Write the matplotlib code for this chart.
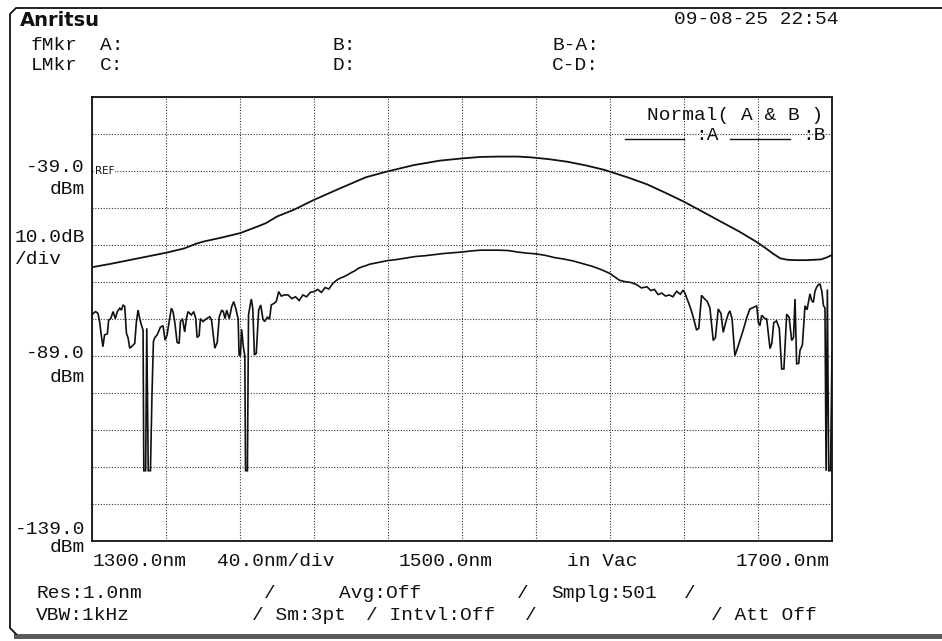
import matplotlib
matplotlib.use("Agg")
import matplotlib.pyplot as plt
from matplotlib.lines import Line2D
from matplotlib.patches import Rectangle

# ---------------- data ----------------
wl_a = [1300, 1310, 1320, 1330, 1340, 1350, 1356, 1360, 1370, 1380, 1390, 1394, 1400,
        1409, 1420, 1434, 1441, 1448, 1459, 1474, 1488, 1500, 1510, 1520, 1530, 1537,
        1547, 1557, 1567, 1577, 1590, 1600, 1610, 1620, 1630, 1640, 1650, 1659, 1664,
        1668, 1672, 1676, 1681, 1686, 1690, 1694, 1697, 1700]
lvl_a = [-65.0, -64.1, -63.1, -62.1, -61.1, -59.9, -58.7, -58.1, -57.0, -55.8, -53.9, -53.1, -51.3,
         -49.5, -46.8, -43.7, -42.2, -40.7, -39.2, -37.4, -36.2, -35.6, -35.2, -35.1, -35.1, -35.3,
         -35.8, -36.5, -37.5, -38.7, -40.8, -42.6, -44.9, -47.3, -50.0, -52.7, -55.4, -58.1, -59.8,
         -61.3, -62.6, -63.0, -63.1, -63.1, -63.0, -62.9, -62.4, -61.7]

wl_b = [1300.0, 1300.5, 1302.0, 1303.2, 1304.1, 1305.0, 1305.9, 1306.8, 1308.3, 1309.0,
        1310.1, 1311.4, 1312.6, 1313.7, 1315.0, 1315.9, 1316.8, 1317.7, 1318.6, 1319.5,
        1320.4, 1321.3, 1323.1, 1324.0, 1324.9, 1325.8, 1326.7, 1327.6, 1328.0, 1329.0,
        1329.6, 1330.4, 1331.6, 1332.4, 1333.2, 1334.0, 1335.2, 1337.0, 1338.4, 1339.5,
        1340.6, 1341.7, 1342.9, 1343.8, 1344.7, 1346.0, 1347.1, 1347.8, 1348.9, 1350.1,
        1351.0, 1351.9, 1353.7, 1355.0, 1356.1, 1356.8, 1357.9, 1358.6, 1360.0, 1361.9,
        1363.7, 1364.6, 1366.4, 1367.7, 1368.8, 1370.1, 1371.0, 1371.9, 1372.8, 1374.2,
        1375.5, 1376.6, 1377.7, 1379.0, 1379.5, 1380.2, 1380.9, 1381.8, 1382.6, 1383.0,
        1384.0, 1384.6, 1385.4, 1386.1, 1386.9, 1387.8, 1388.8, 1390.1, 1391.2, 1392.4,
        1393.3, 1394.8, 1396.0, 1396.9, 1398.3, 1399.6, 1400.9, 1402.3, 1404.0, 1406.0,
        1408, 1410, 1412, 1414, 1416, 1418, 1420, 1422, 1424, 1426,
        1428, 1430, 1432, 1434, 1436, 1438, 1440, 1442, 1444, 1446,
        1448, 1450, 1455, 1460, 1465, 1470, 1475, 1480, 1485, 1490,
        1495, 1500, 1505, 1510, 1515, 1520, 1525, 1530, 1535, 1540,
        1545, 1550, 1555, 1560, 1565, 1570, 1575, 1580, 1583, 1585,
        1588, 1591, 1594, 1597, 1600, 1602, 1604, 1606, 1608, 1610,
        1612, 1614, 1616, 1618, 1619.6, 1620.5, 1622.0, 1623.5, 1625.0, 1626.8,
        1628.0, 1629.5, 1631.0, 1632.5, 1634.0, 1635.8, 1637.0, 1638.5, 1640.0, 1641.2,
        1642.5, 1644.0, 1644.8, 1646.0, 1647.5, 1648.5, 1650.2, 1652.0, 1654.0, 1655.6,
        1657.0, 1659.3, 1660.2, 1661.0, 1662.0, 1663.5, 1664.7, 1666.5, 1667.5, 1668.5,
        1670.0, 1671.5, 1672.8, 1674.0, 1675.5, 1676.8, 1678.2, 1679.2, 1680.0, 1680.9,
        1682.0, 1682.7, 1684.0, 1685.4, 1686.5, 1688.1, 1689.0, 1689.9, 1690.8, 1691.7,
        1692.6, 1693.5, 1694.5, 1695.4, 1696.2, 1696.8, 1697.5, 1698.2, 1699.2, 1700.0]
lvl_b = [-78.0, -77.5, -77.0, -77.5, -79.7, -83.3, -86.5, -83.3, -83.0, -79.3,
         -78.9, -77.0, -78.9, -77.0, -76.1, -76.6, -75.2, -75.6, -82.8, -84.1,
         -86.9, -86.5, -85.6, -79.7, -76.6, -78.9, -80.6, -82.0, -120.0, -120.0,
         -81.5, -120.0, -120.0, -100.0, -85.0, -84.0, -83.3, -81.2, -80.8, -84.7,
         -83.3, -79.7, -76.1, -77.0, -79.7, -85.3, -85.6, -79.7, -78.9, -82.5,
         -78.9, -77.0, -77.9, -77.0, -78.9, -84.0, -83.5, -78.9, -79.7, -78.9,
         -78.4, -79.3, -86.9, -85.3, -78.4, -76.6, -77.0, -78.9, -76.6, -78.9,
         -75.7, -74.3, -76.1, -79.0, -88.7, -89.0, -81.8, -86.5, -89.0, -120.0,
         -120.0, -78.0, -75.5, -73.6, -76.1, -88.7, -88.3, -76.6, -75.2, -79.0,
         -79.7, -78.5, -79.0, -75.2, -74.8, -74.3, -71.6, -72.8, -72.5, -72.5,
         -73.5, -73.0, -74.0, -72.5, -73.0, -71.8, -71.6, -71.0, -71.8, -70.5,
         -70.9, -69.5, -68.6, -68.0, -67.6, -67.1, -66.5, -66.0, -65.3, -64.9,
         -64.6, -64.2, -63.7, -63.2, -62.9, -62.5, -62.1, -61.9, -61.6, -61.3,
         -61.1, -60.9, -60.6, -60.4, -60.4, -60.4, -60.5, -60.9, -61.2, -61.4,
         -61.8, -62.4, -62.8, -63.3, -64.0, -64.7, -65.6, -66.7, -67.8, -68.5,
         -68.9, -69.1, -69.6, -70.6, -70.3, -71.3, -71.0, -72.4, -72.0, -72.8,
         -72.5, -73.0, -71.5, -72.3, -71.2, -72.0, -74.0, -76.0, -78.5, -82.0,
         -81.5, -72.6, -73.5, -74.2, -76.0, -84.8, -84.0, -76.3, -77.5, -82.6,
         -80.0, -77.5, -76.8, -79.0, -88.9, -87.5, -84.8, -82.0, -78.5, -76.3,
         -76.0, -75.4, -80.0, -80.8, -78.0, -78.8, -79.0, -87.0, -85.5, -80.0,
         -79.5, -81.5, -92.5, -92.5, -77.7, -78.5, -84.8, -84.0, -73.6, -91.1,
         -91.0, -87.5, -86.0, -75.4, -76.5, -72.2, -74.0, -74.5, -71.5, -70.4,
         -69.8, -69.5, -71.5, -75.4, -76.0, -120.0, -71.0, -120.0, -120.0, -88.0]

x_ticks = [1300 + 40 * i for i in range(11)]
y_ticks = [-139 + 10 * i for i in range(13)]

# ---------------- figure ----------------
W, H = 942, 641
fig = plt.figure(figsize=(W / 100, H / 100), dpi=100)
fig.patch.set_facecolor("white")
MONO = ["Liberation Mono", "DejaVu Sans Mono"]
FS = 14


def fx(x):
    return x / W


def fy(y):
    return 1 - y / H


def txt(x, y, s, ha="left", size=FS, **kw):
    fig.text(fx(x), fy(y), s, ha=ha, va="center", fontsize=size,
             family=MONO, color="#111111", **kw)


# plot area
ax = fig.add_axes([fx(92), fy(541), (832 - 92) / W, (541 - 97) / H])
ax.set_xlim(1300, 1700)
ax.set_ylim(-139, -19)
ax.set_xticks(x_ticks)
ax.set_yticks(y_ticks)
ax.tick_params(length=0, labelbottom=False, labelleft=False)
ax.grid(True, color="#333333", linewidth=0.8, linestyle=(0, (1, 1.5)))
for sp in ax.spines.values():
    sp.set_linewidth(1.3)
    sp.set_color("#111111")

ax.plot(wl_a, lvl_a, color="#111111", lw=1.3, solid_joinstyle="miter")
ax.plot(wl_b, lvl_b, color="#111111", lw=1.2, solid_joinstyle="miter")

# REF mark
ax.text(1301.6, -39, "REF", fontsize=7.5, family=["DejaVu Sans"], va="center", ha="left",
        color="#111111", bbox=dict(facecolor="white", edgecolor="none", pad=0.6))

# legend text inside plot
txt(823, 116, "Normal( A & B )", ha="right")
fig.add_artist(Line2D([fx(625), fx(684)], [fy(139), fy(139)], color="#111111", lw=1.0))
txt(719, 136, ":A", ha="right")
fig.add_artist(Line2D([fx(730), fx(790)], [fy(139), fy(139)], color="#111111", lw=1.0))
txt(826, 136, ":B", ha="right")

# header
fig.text(fx(20), fy(21), "Anritsu", ha="left", va="center", fontsize=14,
         family=["DejaVu Sans"], weight="bold", color="#111111")
txt(838, 20, "09-08-25 22:54", ha="right")
txt(31, 46, "fMkr")
txt(100, 46, "A:")
txt(333, 46, "B:")
txt(552, 46, "B-A:")
txt(31, 66, "LMkr")
txt(100, 66, "C:")
txt(333, 66, "D:")
txt(552, 66, "C-D:")

# y-axis labels
txt(85, 167, "-39.0", ha="right")
txt(85, 189, "dBm", ha="right")
txt(85, 237, "10.0dB", ha="right")
txt(15, 259, "/div", ha="left")
txt(85, 354, "-89.0", ha="right")
txt(85, 378, "dBm", ha="right")
txt(85, 530, "-139.0", ha="right")
txt(85, 547, "dBm", ha="right")

# x-axis labels
txt(93, 562, "1300.0nm")
txt(217, 562, "40.0nm/div")
txt(399, 562, "1500.0nm")
txt(567, 562, "in Vac")
txt(830, 562, "1700.0nm", ha="right")

# bottom settings
txt(36, 593, "Res:1.0nm")
txt(264, 593, "/")
txt(339, 593, "Avg:Off")
txt(517, 593, "/")
txt(551, 593, "Smplg:501")
txt(684, 593, "/")
txt(36, 616, "VBW:1kHz")
txt(252, 616, "/ Sm:3pt")
txt(366, 616, "/ Intvl:Off")
txt(525, 616, "/")
txt(711, 616, "/ Att Off")

# outer frame
fig.add_artist(Line2D([fx(942), fx(16), fx(10), fx(10), fx(16)],
                      [fy(8), fy(8), fy(14), fy(628), fy(634)],
                      color="#111111", lw=1.3))
fig.add_artist(Rectangle((fx(14), fy(639)), (W - 14) / W, 5 / H,
                         facecolor="#5a5a5a", edgecolor="none",
                         transform=fig.transFigure))

fig.savefig("out.png", dpi=100, facecolor="white")
